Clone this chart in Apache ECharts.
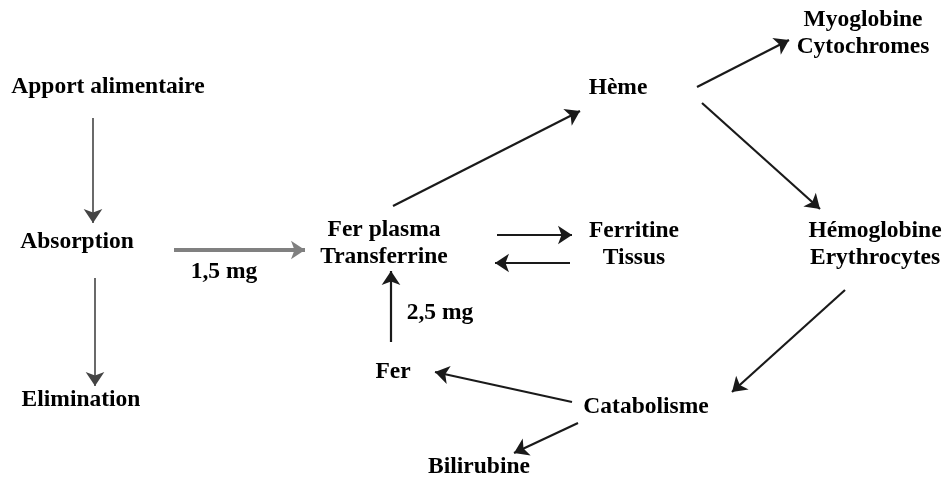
<!DOCTYPE html>
<html>
<head>
<meta charset="utf-8">
<script src="https://cdn.jsdelivr.net/npm/echarts@6/dist/echarts.min.js"></script>
<style>
  html, body { margin: 0; padding: 0; background: #fff; }
  #chart { width: 951px; height: 480px; }
</style>
</head>
<body>
<div id="chart"></div>
<script>
// noeuds du schéma (positions dans l'espace 951 x 480)
const nodeNames = [
  'Apport alimentaire', 'Absorption', 'Elimination',
  'Fer plasma\nTransferrine', 'Hème', 'Myoglobine\nCytochromes',
  'Ferritine\nTissus', 'Hémoglobine\nErythrocytes', 'Catabolisme',
  'Fer', 'Bilirubine'
]
const nodeX = [108, 77, 81, 384, 618, 863, 634, 875, 646, 393, 479]
const nodeY = [87, 242, 400, 243, 88, 33, 244, 244, 407, 372, 467]

// flèches : départ -> arrivée
const arrowStart = [
  [93, 118], [95, 278], [174, 250], [393, 206], [697, 87],
  [702, 103], [845, 290], [497, 235], [570, 263], [391, 342],
  [572, 402], [578, 423]
]
const arrowEnd = [
  [93, 223], [95, 386], [305, 250], [580, 111], [789, 40],
  [820, 209], [732, 392], [572, 235], [495, 263], [391, 271],
  [435, 372], [514, 453]
]

// quantités indiquées sur les flux
const flowNames = ['1,5 mg', '2,5 mg']
const flowX = [224, 440]
const flowY = [272, 313]

const chart = echarts.init(document.getElementById('chart'))

const arrows = arrowStart.map((s, i) => {
  const isMain = i === 2
  return {
    coords: [s, arrowEnd[i]],
    lineStyle: {
      color: isMain ? '#808080' : (i < 2 ? '#444' : '#1a1a1a'),
      width: isMain ? 4 : (i < 2 ? 1.6 : 2.2),
      opacity: 1
    }
  }
})

const textStyle = {
  show: true,
  position: 'inside',
  formatter: p => p.name,
  color: '#000',
  opacity: 1,
  fontFamily: 'Liberation Serif',
  fontWeight: 'bold',
  fontSize: 23.5,
  lineHeight: 27,
  align: 'center'
}

chart.setOption({
  animation: false,
  backgroundColor: '#fff',
  grid: {left: 0, right: 0, top: 0, bottom: 0},
  xAxis: {type: 'value', min: 0, max: 951, show: false},
  yAxis: {type: 'value', min: 0, max: 480, inverse: true, show: false},
  series: [
    {
      type: 'lines',
      coordinateSystem: 'cartesian2d',
      symbol: ['none', 'arrow'],
      symbolSize: [10, 14],
      lineStyle: {opacity: 1},
      data: arrows,
      z: 1
    },
    {
      type: 'scatter',
      symbolSize: 0,
      itemStyle: {opacity: 1},
      data: nodeNames.map((n, i) => ({name: n, value: [nodeX[i], nodeY[i]]})),
      label: textStyle,
      z: 2
    },
    {
      type: 'scatter',
      symbolSize: 0,
      itemStyle: {opacity: 1},
      data: flowNames.map((n, i) => ({name: n, value: [flowX[i], flowY[i]]})),
      label: textStyle,
      z: 2
    }
  ]
})
</script>
</body>
</html>
